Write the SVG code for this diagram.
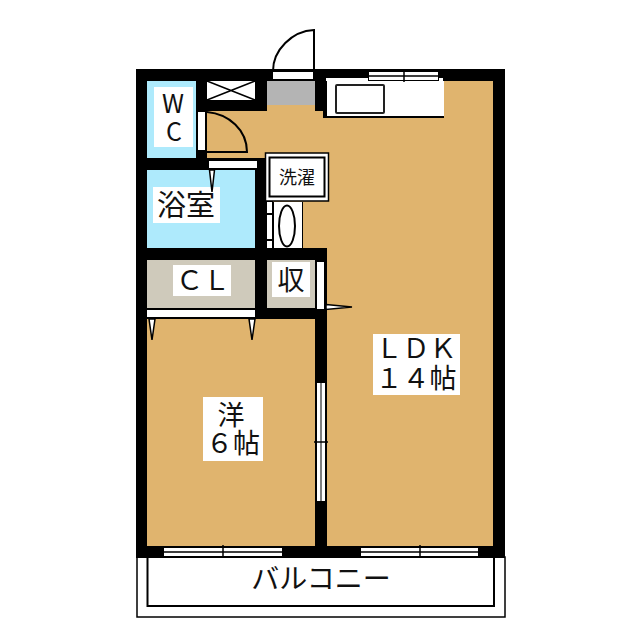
<svg xmlns="http://www.w3.org/2000/svg" width="640" height="640" viewBox="0 0 640 640">
<style>
.w{fill:#000}
.b{fill:#e0b46e}
.t{fill:#fff}
.l{fill:none;stroke:#000;stroke-width:2}
.s{stroke:#000;stroke-width:1.5;fill:none}
.tip{fill:#fff;stroke:#000;stroke-width:1.500}
text{font-family:"Noto Sans CJK JP","Liberation Sans",sans-serif;fill:#111;text-anchor:middle;font-size:27px}
</style>
<rect width="640" height="640" fill="#fff"/>
<g id="balcony">
<rect x="137" y="557" width="368" height="60" fill="#fff" stroke="#000" stroke-width="1.500"/>
<path d="M147.500 557V606H494V557" class="l"/>
<text x="321" y="589" style="font-size:28px">バルコニー</text>
</g>
<g id="walls">
<rect class="w" x="136" y="69" width="369" height="489"/>
</g>
<g id="floors">
<path class="b" d="M207 111H267V105H315V111H327V81H493V546H327V248H273V201H267V158H207Z"/>
<rect x="147" y="319" width="168" height="227" class="b"/>
<rect x="267" y="81" width="48" height="24" fill="#b4b4b4"/>
</g>
<g id="wc">
<rect x="147" y="81" width="49" height="77" fill="#aeeafc"/>
<rect x="154" y="87" width="39" height="60" class="t"/>
<text style="font-size:25px"><tspan x="173" y="113">W</tspan><tspan x="174" y="141">C</tspan></text>
</g>
<g id="bath">
<rect x="147" y="170" width="108" height="78" fill="#aeeafc"/>
<rect x="153" y="187" width="67" height="36" class="t"/>
<text x="186" y="216" style="font-size:29px">浴室</text>
</g>
<g id="closet">
<rect x="147" y="260" width="108" height="48" fill="#cfcabb"/>
<rect x="173" y="265" width="58" height="31" class="t"/>
<text x="203" y="290">ＣＬ</text>
</g>
<g id="storage">
<rect x="267" y="260" width="48" height="48" fill="#cfcabb"/>
<rect x="272" y="262" width="38" height="35" class="t"/>
<text x="291" y="290">収</text>
</g>
<g id="entrance">
<rect x="273" y="72" width="40" height="7" class="t"/>
<path class="l" d="M273 71C273 50 292 31 314 30V72"/>
</g>
<g id="shoebox">
<rect x="207" y="81" width="48" height="19" class="t"/>
<path d="M207 81L255 100M255 81L207 100" class="s"/>
</g>
<g id="wc-door">
<rect x="198" y="112" width="7" height="38" class="t"/>
<path class="l" d="M207 112C229 114 247 130 247 152H207"/>
<rect x="209" y="161" width="48" height="7" class="t"/>
<path d="M209.500 170H214.500L212 192Z" class="tip"/>
</g>
<g id="kitchen">
<rect x="323" y="110" width="121" height="8" fill="#000"/>
<rect x="327" y="81" width="117" height="35" class="t"/>
<rect x="326" y="78" width="42" height="3" class="t"/>
<rect x="439" y="78" width="4" height="3" class="t"/>
<rect x="336" y="85" width="48" height="28" rx="1" fill="#fff" stroke="#222" stroke-width="2"/>
</g>
<g id="laundry">
<rect x="265.500" y="153" width="63" height="48" fill="#fff" stroke="#000" stroke-width="1.500"/>
<rect x="269.500" y="157.500" width="55" height="39" fill="#fff" stroke="#000" stroke-width="2"/>
<text x="297" y="184" style="font-size:18px">洗濯</text>
</g>
<g id="washbasin">
<rect x="273" y="202" width="30" height="46" fill="#000"/>
<rect x="274" y="202" width="28" height="46" class="t"/>
<ellipse cx="287" cy="226" rx="8" ry="20.500" fill="#fff" stroke="#000" stroke-width="2"/>
<path d="M267 202H272V213H267ZM267 215H272V239H267ZM267 241H272V248H267Z" fill="#fff"/>
</g>
<g id="doors">
<rect x="317" y="262" width="7" height="47" class="t"/>
<path d="M326 304.500L352 307L326 309.500Z" class="tip"/>
<rect x="147" y="310" width="108" height="7" class="t"/>
<path d="M149 319H155L152 340Z" class="tip"/>
<path d="M249 319H255L252 340Z" class="tip"/>
</g>
<g id="windows">
<rect x="369" y="72" width="69" height="8" class="t"/>
<path d="M369 76H438M404 69V82" class="s"/>
<rect x="164" y="548" width="118" height="8" class="t"/>
<path d="M164 552H282M223 545V558" class="s"/>
<rect x="361" y="548" width="117" height="8" class="t"/>
<path d="M361 552H478M420 545V558" class="s"/>
<rect x="317" y="383" width="8" height="118" class="t"/>
<path d="M321 383V501" stroke="#555" stroke-width="1.500"/>
<path d="M314 442H328" class="s"/>
</g>
<g id="ldk">
<rect x="373" y="334" width="87" height="61" class="t"/>
<text><tspan x="416" y="358">ＬＤＫ</tspan><tspan x="416" y="388">１４帖</tspan></text>
</g>
<g id="western">
<rect x="203" y="397" width="60" height="64" class="t"/>
<text><tspan x="231" y="425">洋</tspan><tspan x="233" y="453">６帖</tspan></text>
</g>
</svg>
